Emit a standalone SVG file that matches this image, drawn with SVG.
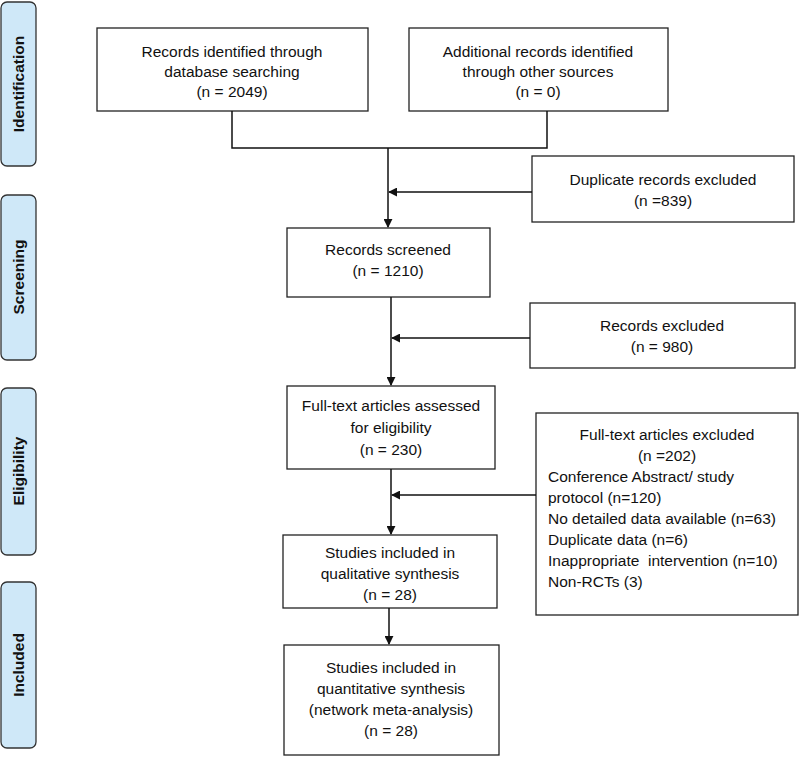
<svg xmlns="http://www.w3.org/2000/svg" width="800" height="757" viewBox="0 0 800 757">
<style>
.box{fill:#fff;stroke:#222;stroke-width:1.3}
.side{fill:#cfe8f8;stroke:#333;stroke-width:1.3}
.t{font-family:"Liberation Sans",Arial,sans-serif;font-size:15.5px;fill:#111;text-anchor:middle}
.l{text-anchor:start}
.s{font-family:"Liberation Sans",Arial,sans-serif;font-size:15.5px;font-weight:bold;fill:#111;text-anchor:middle}
.c{fill:none;stroke:#111;stroke-width:1.5}
</style>
<defs>
<marker id="ah" viewBox="0 0 10 10" refX="9" refY="5" markerWidth="9" markerHeight="9" markerUnits="userSpaceOnUse" orient="auto">
<path d="M0,0L10,5L0,10z" fill="#111"/>
</marker>
</defs>
<g id="side-identification"><rect class="side" x="1" y="2" width="35" height="164" rx="6"/><text class="s" transform="translate(24,84) rotate(-90)">Identification</text></g>
<g id="side-screening"><rect class="side" x="1" y="195" width="35" height="165" rx="6"/><text class="s" transform="translate(24,277) rotate(-90)">Screening</text></g>
<g id="side-eligibility"><rect class="side" x="1" y="388" width="35" height="167" rx="6"/><text class="s" transform="translate(24,471) rotate(-90)">Eligibility</text></g>
<g id="side-included"><rect class="side" x="1" y="582" width="35" height="166" rx="6"/><text class="s" transform="translate(24,665) rotate(-90)">Included</text></g>

<g id="n1"><rect class="box" x="97" y="28" width="271" height="83"/>
<text class="t" x="232" y="57">Records identified through</text>
<text class="t" x="232" y="77">database searching</text>
<text class="t" x="232" y="97">(n = 2049)</text></g>
<g id="n2"><rect class="box" x="409" y="28" width="259" height="83"/>
<text class="t" x="538" y="57">Additional records identified</text>
<text class="t" x="538" y="77">through other sources</text>
<text class="t" x="538" y="97">(n = 0)</text></g>
<g id="n3"><rect class="box" x="532" y="156" width="262" height="66"/>
<text class="t" x="663" y="185">Duplicate records excluded</text>
<text class="t" x="663" y="206">(n =839)</text></g>
<g id="n4"><rect class="box" x="287" y="228" width="203" height="69"/>
<text class="t" x="388" y="255">Records screened</text>
<text class="t" x="388" y="276">(n = 1210)</text></g>
<g id="n5"><rect class="box" x="530" y="303" width="265" height="65"/>
<text class="t" x="662" y="331">Records excluded</text>
<text class="t" x="662" y="352">(n = 980)</text></g>
<g id="n6"><rect class="box" x="287" y="386" width="208" height="83"/>
<text class="t" x="391" y="411">Full-text articles assessed</text>
<text class="t" x="391" y="433">for eligibility</text>
<text class="t" x="391" y="455">(n = 230)</text></g>
<g id="n7"><rect class="box" x="536" y="413" width="262" height="202"/>
<text class="t" x="667" y="440">Full-text articles excluded</text>
<text class="t" x="667" y="461">(n =202)</text>
<text class="t l" x="548" y="482">Conference Abstract/ study</text>
<text class="t l" x="548" y="503">protocol (n=120)</text>
<text class="t l" x="548" y="524">No detailed data available (n=63)</text>
<text class="t l" x="548" y="545">Duplicate data (n=6)</text>
<text class="t l" x="548" y="566" style="white-space:pre">Inappropriate  intervention (n=10)</text>
<text class="t l" x="548" y="587">Non-RCTs (3)</text></g>
<g id="n8"><rect class="box" x="283" y="535" width="214" height="73"/>
<text class="t" x="390" y="558">Studies included in</text>
<text class="t" x="390" y="579">qualitative synthesis</text>
<text class="t" x="390" y="600">(n = 28)</text></g>
<g id="n9"><rect class="box" x="284" y="645" width="215" height="110"/>
<text class="t" x="391" y="673">Studies included in</text>
<text class="t" x="391" y="694">quantitative synthesis</text>
<text class="t" x="391" y="715">(network meta-analysis)</text>
<text class="t" x="391" y="736">(n = 28)</text></g>

<g id="connectors">
<path class="c" d="M232,111V148H547V111"/>
<path class="c" d="M388,148V227" marker-end="url(#ah)"/>
<path class="c" d="M532,192H389" marker-end="url(#ah)"/>
<path class="c" d="M391,297V385" marker-end="url(#ah)"/>
<path class="c" d="M530,338H392" marker-end="url(#ah)"/>
<path class="c" d="M391,469V534" marker-end="url(#ah)"/>
<path class="c" d="M536,495H392" marker-end="url(#ah)"/>
<path class="c" d="M389,608V644" marker-end="url(#ah)"/>
</g>
</svg>
